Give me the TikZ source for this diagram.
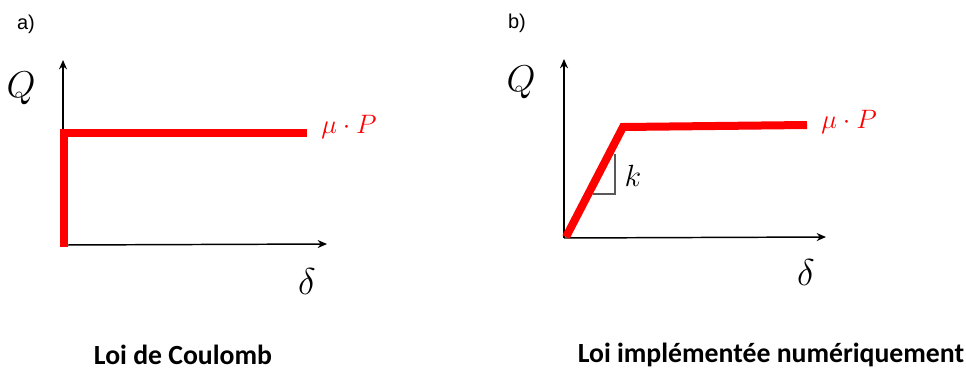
\RequirePackage{fix-cm}
\documentclass[tikz,border=0pt]{standalone}
\usepackage{fontspec}
\setmainfont{Carlito}
\newfontfamily\labfont{Liberation Sans}
\usetikzlibrary{arrows.meta}
\tikzset{
  axis/.style={line width=1.1pt,-{Stealth[length=7pt,width=6pt]}},
  law/.style={line width=6pt,red,line join=miter},
  mathlbl/.style={font=\fontsize{28}{30}\selectfont,inner sep=0pt},
  redlbl/.style={font=\fontsize{20}{22}\selectfont,text=red,inner sep=0pt,anchor=west},
  caption/.style={font=\fontsize{20.8}{23}\selectfont\bfseries,inner sep=0pt},
  panel/.style={font=\labfont\fontsize{15}{17}\selectfont,inner sep=0pt}
}
\begin{document}
\begin{tikzpicture}[x=0.75pt,y=-0.75pt]
\useasboundingbox (0,0) rectangle (966,372);
% panel a
\node[panel] (la) at (26,24) {a)};
\coordinate (oa) at (63,245);
\coordinate (ya) at (63,60);
\coordinate (xa) at (327,244);
\draw[axis] (oa) -- (ya);
\draw[axis] (oa) -- (xa);
\coordinate (a1) at (64,247);
\coordinate (a2) at (64,133);
\coordinate (a3) at (307,133);
\draw[law] (a1) -- (a2) -- (a3);
\node[mathlbl] (qa) at (21,88) {$Q$};
\node[mathlbl] (da) at (307,282) {$\delta$};
\node[redlbl] (ma) at (321,127) {$\mu\cdot P$};
% panel b
\node[panel] (lb) at (517,23) {b)};
\coordinate (ob) at (564,238);
\coordinate (yb) at (564,59);
\coordinate (xb) at (826,237);
\draw[axis] (ob) -- (yb);
\draw[axis] (ob) -- (xb);
\coordinate (b1) at (566,237);
\coordinate (b2) at (623,127);
\coordinate (b3) at (807,125);
\draw[law] (b1) -- (b2) -- (b3);
\coordinate (t1) at (615,154);
\coordinate (t2) at (615,194);
\coordinate (t3) at (593,194);
\draw[gray!70!black,line width=0.8pt] (t1) -- (t2) -- (t3);
\node[mathlbl,font=\fontsize{23}{25}\selectfont] (kb) at (633,176) {$k$};
\node[mathlbl] (qb) at (521,82) {$Q$};
\node[mathlbl] (db) at (806,273) {$\delta$};
\node[redlbl] (mb) at (821,122) {$\mu\cdot P$};
% captions
\node[caption] (ca) at (183,355) {Loi de Coulomb};
\node[caption] (cb) at (771,355) {Loi implémentée numériquement};
\end{tikzpicture}
\end{document}
